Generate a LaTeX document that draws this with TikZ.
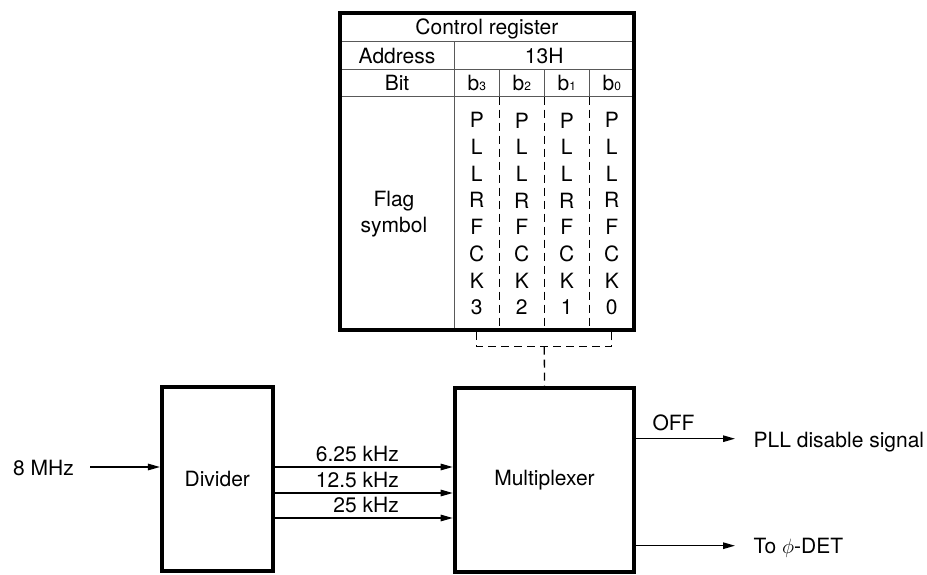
\documentclass[tikz,border=0pt]{standalone}
\usepackage{fontspec}
\setmainfont{TeX Gyre Heros}
\usetikzlibrary{arrows.meta,positioning}

\begin{document}
\begin{tikzpicture}[
  x=1pt, y=-1pt,
  font=\fontsize{21}{25}\selectfont,
  >={Triangle[length=12pt,width=6.5pt]},
  block/.style={draw, line width=4pt, inner sep=0pt, minimum height=184pt},
  signal/.style={->, line width=1.3pt},
  cellline/.style={line width=1.3pt, black!65},
  flagline/.style={line width=1.3pt, dash pattern=on 8pt off 5pt},
  ctrl/.style={line width=1.3pt, dash pattern=on 8pt off 5pt},
  cell/.style={anchor=base, inner sep=0pt},
  flagbits/.style={align=center, inner sep=0pt, font=\fontsize{21}{26.7}\selectfont},
  sub/.style={font=\fontsize{12}{12}\selectfont}
]
  \useasboundingbox (0,0) rectangle (927,575);

  \draw[cellline] (339.7,41.7) -- (634,41.7) (339.7,69.3) -- (634,69.3)
    (339.7,96.7) -- (634,96.7) (454.3,41.7) -- (454.3,330);
  \foreach \x in {499.3,544.3,589.3}{
    \draw[cellline] (\x,69.3) -- (\x,96.7);
    \draw[flagline] (\x,96.7) -- (\x,330);
  }
  \node[draw, line width=4pt, inner sep=0pt, minimum width=294.3pt,
    minimum height=317.3pt] (reg) at (486.85,171.35) {};

  \node[cell] (title) at (486.85,34.3) {Control register};
  \node[cell] (addr) at (397,63.3) {Address};
  \node[cell] (addrval) at (544.2,63.3) {13H};
  \node[cell] (bit) at (397,90.7) {Bit};
  \node[flagbits] (flag) at (394,214) {Flag\\symbol};
  \foreach \x/\n [count=\i] in {476.8/3,521.8/2,566.8/1,611.8/0}{
    \node[cell] (bit\n) at (\x,90.7) {b{\fontsize{12}{12}\selectfont\n}};
    \node[flagbits] (pll\n) at (\x,213.8) {P\\L\\L\\R\\F\\C\\K\\\n};
  }

  \node[block, minimum width=110.7pt] (div) at (217.3,479.3) {Divider};
  \node[block, minimum width=179.6pt] (mux) at (544.5,479.9) {Multiplexer};

  \node[anchor=base east, inner sep=0pt] (clk) at (74,475) {8 MHz};
  \coordinate (clkout) at (90,467);
  \draw[signal] (clkout) -- (div.west |- clkout);

  \foreach \y/\f [count=\i] in {467/6.25,493/12.5,518/25}{
    \coordinate (rate\i) at (0,\y);
    \draw[signal] (div.east |- rate\i) -- (mux.west |- rate\i);
    \node[anchor=base east, inner sep=0pt] (ratelbl\i) at (399,\y-5.3) {\f\ kHz};
  }

  \coordinate (brk) at (544.3,346.7);
  \draw[ctrl] (bit3 |- reg.south) -- (bit3 |- brk) -- (bit0 |- brk) -- (bit0 |- reg.south);
  \draw[ctrl] (brk) -- (mux.north);

  \coordinate (offend) at (735,438.7);
  \coordinate (detend) at (735,545.7);
  \draw[signal] (mux.east |- offend) -- (offend);
  \draw[signal] (mux.east |- detend) -- (detend);
  \node[anchor=base west, inner sep=0pt] (off) at (652.3,430.7) {OFF};
  \node[anchor=base west, inner sep=0pt] (pll) at (753.5,447.3) {PLL disable signal};
  \node[anchor=base west, inner sep=0pt] (det) at (753.5,553.3) {To $\phi$-DET};
\end{tikzpicture}
\end{document}
